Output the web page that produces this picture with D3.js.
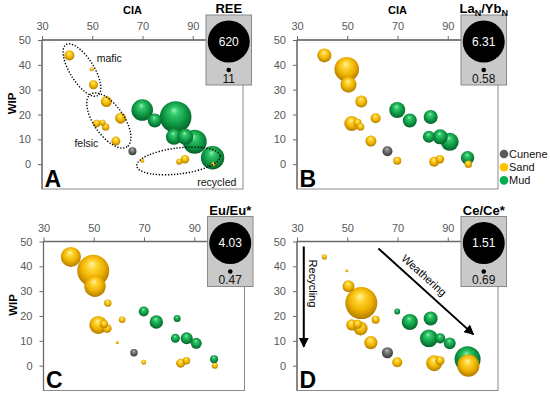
<!DOCTYPE html>
<html><head><meta charset="utf-8">
<script src="https://cdn.jsdelivr.net/npm/d3@7"></script>
<style>body{margin:0;background:#fff}svg{display:block;font-family:Arial,"Liberation Sans",sans-serif}</style>
</head><body><svg id="c" width="550" height="397"></svg>
<script>
// ---- data ----
const xTicks=[30,50,70,90];
const yTicks=[0,10,20,30,40,50];
const sandCIA=[40.9,49.8,50.5,55.6,61.3,51.8,54.1,55.3,59.4,69.9,84.6,86.9,98.2];
const sandWIP=[43.8,38.2,32.0,25.2,18.5,16.4,16.7,15.0,9.3,1.4,1.0,2.0,0.0];
const mudCIA=[69.9,74.9,83.2,82.5,87.0,90.8,97.9];
const mudWIP=[21.8,17.6,19.0,11.0,11.0,9.0,2.6];
const cuneneCIA=[66.0];
const cuneneWIP=[5.2];
// bubble-size variables
const sandREE=[143,11,121,165,165,86,55,86,121,13,55,108,13];
const mudREE=[399,232,620,276,276,452,439];
const cuneneREE=[99];
const sandLaYb=[2.78,6.31,3.45,2.11,1.45,3.11,0.78,0.58,1.78,0.78,1.45,0.91,0.58];
const mudLaYb=[3.45,2.78,2.78,2.11,3.11,4.11,2.58];
const cuneneLaYb=[1.45];
const sandEu=[2.55,4.03,2.72,0.99,0.89,2.30,1.06,1.19,0.47,0.69,1.19,0.99,0.82];
const mudEu=[1.31,1.73,0.94,1.19,1.56,1.43,1.06];
const cuneneEu=[0.99];
const sandCe=[0.75,0.69,0.94,1.51,0.83,0.92,0.86,1.00,0.98,0.89,1.06,0.86,1.23];
const mudCe=[0.77,1.06,1.00,1.11,0.89,0.94,1.34];
const cuneneCe=[0.92];
const seriesNames=["Cunene","Sand","Mud"];

// ---- layout / style ----
const W=201,H=149;
const colors={Cunene:"#595959",Sand:"#ffc000",Mud:"#00b050"};
const svg=d3.select("#c");
const defs=svg.append("defs");
const grads={
  Sand:[[0,"#fff4b0"],[0.22,"#ffd83a"],[0.6,"#f0b200"],[1,"#a87600"]],
  Mud:[[0,"#9af0b8"],[0.22,"#33c86b"],[0.6,"#0f9a45"],[1,"#055a27"]],
  Cunene:[[0,"#cfcfcf"],[0.22,"#8c8c8c"],[0.6,"#606060"],[1,"#303030"]]
};
Object.entries(grads).forEach(([k,st])=>{
  const g=defs.append("radialGradient").attr("id","g"+k)
    .attr("cx","0.5").attr("cy","0.45").attr("r","0.58").attr("fx","0.45").attr("fy","0.28");
  st.forEach(s=>g.append("stop").attr("offset",s[0]).attr("stop-color",s[1]));
});
const mk=defs.append("marker").attr("id","arr").attr("viewBox","0 0 10 10")
  .attr("refX",9).attr("refY",5).attr("markerWidth",5).attr("markerHeight",5)
  .attr("markerUnits","strokeWidth").attr("orient","auto");
mk.append("path").attr("d","M0,0L10,5L0,10z").attr("fill","#000");

const panels=[
 {L:"A",left:42,top:40,title:"REE",sub:false,sizes:[sandREE,mudREE,cuneneREE],vmin:11,vmax:620,rmin:2,rmax:15.8,minLab:"11",maxLab:"620",cia:true,ciaDx:90.5,wip:true},
 {L:"B",left:297,top:40,title:"LaYb",sub:true,sizes:[sandLaYb,mudLaYb,cuneneLaYb],vmin:0.58,vmax:6.31,rmin:3.7,rmax:12.3,minLab:"0.58",maxLab:"6.31",cia:true,ciaDx:100.5,wip:false,legend:true},
 {L:"C",left:43.5,top:241.5,title:"Eu/Eu*",sub:false,sizes:[sandEu,mudEu,cuneneEu],vmin:0.47,vmax:4.03,rmin:1.6,rmax:16,minLab:"0.47",maxLab:"4.03",cia:false,wip:true},
 {L:"D",left:297,top:241.5,title:"Ce/Ce*",sub:false,sizes:[sandCe,mudCe,cuneneCe],vmin:0.69,vmax:1.51,rmin:1.5,rmax:16,minLab:"0.69",maxLab:"1.51",cia:false,wip:false,arrows:true}
];

panels.forEach(p=>{
  const g=svg.append("g").attr("transform",`translate(${p.left},${p.top})`);
  const x=d3.scaleLinear().domain([30,110]).range([0,W]);
  const y=d3.scaleLinear().domain([-10,50]).range([H,0]);
  const r=d3.scaleLinear().domain([p.vmin,p.vmax]).range([p.rmin,p.rmax]);

  // frame
  g.append("rect").attr("width",W).attr("height",H).attr("fill","none").attr("stroke","#8a8a8a").attr("stroke-width",1);
  g.append("line").attr("x1",0).attr("x2",0).attr("y1",0).attr("y2",H).attr("stroke","#6a6a6a").attr("stroke-width",1.3);
  g.append("line").attr("x1",0).attr("x2",W).attr("y1",0).attr("y2",0).attr("stroke","#6a6a6a").attr("stroke-width",1.3);

  const ax=g.append("g").call(d3.axisTop(x).tickValues(xTicks).tickSize(4).tickPadding(6));
  const ay=g.append("g").call(d3.axisLeft(y).tickValues(yTicks).tickSize(4).tickPadding(7));
  [ax,ay].forEach(a=>{
    a.select(".domain").remove();
    a.selectAll("line").attr("stroke","#6a6a6a");
    a.selectAll("text").attr("fill","#595959").style("font-size","11px").style("font-family","Arial, 'Liberation Sans', sans-serif");
  });

  // bubbles
  const pts=[];
  const cias=[sandCIA,mudCIA,cuneneCIA], wips=[sandWIP,mudWIP,cuneneWIP], names=["Sand","Mud","Cunene"];
  names.forEach((n,si)=>cias[si].forEach((c,i)=>pts.push({s:n,cx:c,wy:wips[si][i],v:p.sizes[si][i]})));
  pts.sort((a,b)=>b.v-a.v);
  pts.sort((a,b)=>r(b.v)-r(a.v));
  g.selectAll("circle.b").data(pts).enter().append("circle").attr("class","b")
    .attr("cx",d=>x(d.cx)).attr("cy",d=>y(d.wy)).attr("r",d=>r(d.v))
    .attr("fill",d=>`url(#g${d.s})`);

  if(p.L==="A"){
    const ell=[{cx:45.9,cy:37.9,rx:30,ry:12,rot:58},{cx:56.6,cy:17.6,rx:32,ry:15,rot:55},{cx:84.3,cy:1.3,rx:42,ry:13,rot:-7}];
    ell.forEach(e=>g.append("ellipse").attr("transform",`translate(${x(e.cx)},${y(e.cy)}) rotate(${e.rot})`)
      .attr("rx",e.rx).attr("ry",e.ry).attr("fill","none").attr("stroke","#000").attr("stroke-width",1.4)
      .attr("stroke-dasharray","1.3 1.7"));
    const labs=[["mafic",51.8,41.1],["felsic",42.9,6.9],["recycled",91.8,-8.9]];
    labs.forEach(l=>g.append("text").attr("x",x(l[1])).attr("y",y(l[2])).text(l[0]).style("font-size","10.5px").attr("fill","#111"));
  }
  if(p.arrows){
    g.append("line").attr("x1",x(32.7)).attr("y1",y(48)).attr("x2",x(32.7)).attr("y2",y(7.6))
      .attr("stroke","#000").attr("stroke-width",2).attr("marker-end","url(#arr)");
    g.append("line").attr("x1",x(62.4)).attr("y1",y(47.2)).attr("x2",x(100.2)).attr("y2",y(12.6))
      .attr("stroke","#000").attr("stroke-width",2).attr("marker-end","url(#arr)");
    g.append("text").attr("transform",`translate(${x(36.2)},${y(33.1)}) rotate(90)`).attr("text-anchor","middle")
      .attr("dy","0.35em").text("Recycling").style("font-size","11px");
    g.append("text").attr("transform",`translate(${x(80.6)},${y(36.4)}) rotate(42)`).attr("text-anchor","middle")
      .attr("dy","0.35em").text("Weathering").style("font-size","11px");
  }

  // panel letter
  g.append("text").attr("x",2.5).attr("y",H-2.5).text(p.L).style("font-size","23px").style("font-weight","bold");

  // axis titles
  if(p.cia) g.append("text").attr("x",p.ciaDx).attr("y",-26.5).attr("text-anchor","middle").text("CIA").style("font-size","11px").style("font-weight","bold");
  if(p.wip) g.append("text").attr("transform",`translate(${-30.5},${63.5}) rotate(-90)`).attr("text-anchor","middle").attr("dy","0.35em").text("WIP").style("font-size","11.5px").style("font-weight","bold");

  // size legend box
  const bx=W-37, by=-25, bw=45.5, bh=70, bc=bx+bw/2;
  g.append("rect").attr("x",bx).attr("y",by).attr("width",bw).attr("height",bh).attr("fill","#c9c9c9").attr("stroke","#8a8a8a").attr("stroke-width",1);
  g.append("circle").attr("cx",bc).attr("cy",by+26.5).attr("r",21).attr("fill","#000");
  g.append("text").attr("x",bc).attr("y",by+26.5).attr("dy","0.36em").attr("text-anchor","middle").attr("fill","#fff").text(p.maxLab).style("font-size","12px");
  g.append("circle").attr("cx",bc).attr("cy",by+55).attr("r",2.3).attr("fill","#000");
  g.append("text").attr("x",bc).attr("y",by+67.5).attr("text-anchor","middle").attr("fill","#111").text(p.minLab).style("font-size","12px");
  const t=g.append("text").attr("x",bc).attr("y",by-1.8).attr("text-anchor","middle").style("font-size","13px").style("font-weight","bold");
  if(p.sub){
    t.append("tspan").text("La");
    t.append("tspan").text("N").attr("dy","3").style("font-size","9px");
    t.append("tspan").text("/Yb").attr("dy","-3");
    t.append("tspan").text("N").attr("dy","3").style("font-size","9px");
  } else t.text(p.title);

  if(p.legend){
    const lg=g.append("g").attr("transform",`translate(${W+6},${114})`);
    seriesNames.forEach((n,i)=>{
      lg.append("circle").attr("cx",0).attr("cy",i*13.2).attr("r",4.3).attr("fill",colors[n]);
      lg.append("text").attr("x",5).attr("y",i*13.2).attr("dy","0.36em").text(n).style("font-size","11px").attr("fill","#111");
    });
  }
});
</script></body></html>
